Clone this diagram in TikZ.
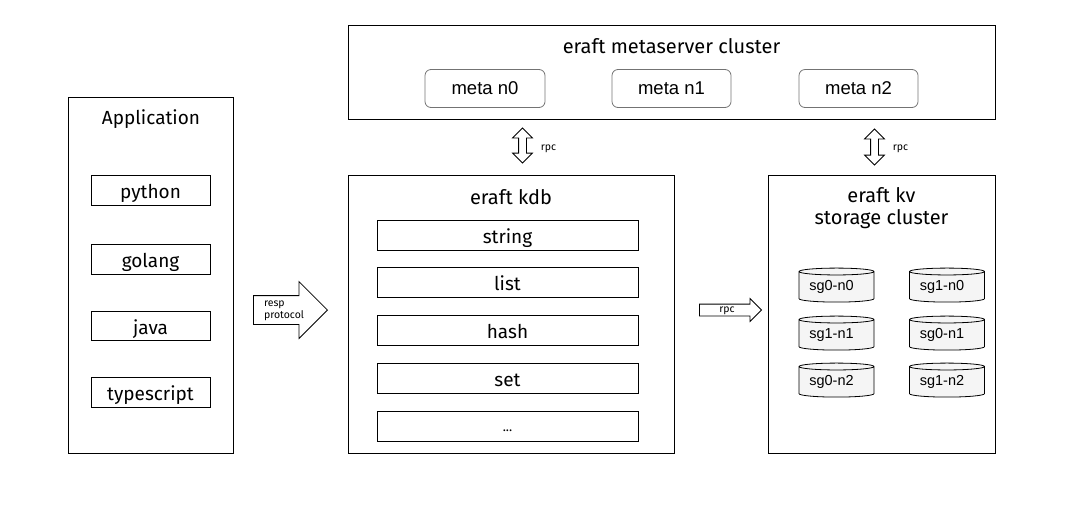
\documentclass[tikz,border=0pt]{standalone}
\usepackage{fontspec}
\setmainfont{Fira Sans}
\newfontfamily\arialfont{Liberation Sans}
\usetikzlibrary{shapes.geometric,shapes.arrows}
\newcommand{\disklabel}[1]{\raisebox{-3pt}{\kern-10pt #1}}
\tikzset{
  panelbox/.style={draw,line width=1pt,inner sep=0pt},
  itembox/.style={draw,line width=1pt,inner sep=0pt,text height=17pt,text depth=0pt,font=\fontsize{19}{19}\selectfont},
  metabox/.style={draw=black!55,line width=.8pt,rounded corners=6pt,inner sep=0pt,minimum width=119pt,minimum height=38pt,font=\arialfont\fontsize{18.5}{18.5}\selectfont},
  diskbox/.style={draw,line width=.8pt,fill=black!4,cylinder,shape border rotate=90,aspect=.2,inner sep=0pt,minimum width=75pt,minimum height=34pt,font=\arialfont\fontsize{14.5}{14.5}\selectfont},
  title/.style={font=\fontsize{20}{22}\selectfont,align=center},
  small/.style={font=\fontsize{10.5}{11.5}\selectfont,align=left},
}
\begin{document}
\begin{tikzpicture}[x=1pt,y=-1pt]
  \useasboundingbox (0,0) rectangle (1083,528);

  % application
  \node[panelbox,minimum width=165pt,minimum height=356pt] (app) at (151,275.5) {};
  \node[title,font=\fontsize{19}{23}\selectfont] (apptitle) at (151,119.5) {Application};
  \node[itembox,minimum width=119pt,minimum height=30pt] (python) at (150.5,190) {python};
  \node[itembox,minimum width=119pt,minimum height=30pt] (golang) at (150.5,259) {golang};
  \node[itembox,minimum width=119pt,minimum height=29pt] (java) at (150.5,325.5) {java};
  \node[itembox,minimum width=119pt,minimum height=30pt] (typescript) at (150.5,392) {typescript};

  % meta cluster
  \node[panelbox,minimum width=647pt,minimum height=94pt] (metaserver) at (671.5,72.5) {};
  \node[title] (metatitle) at (671.5,46.5) {eraft metaserver cluster};
  \node[metabox,minimum width=120pt] (metan0) at (485,88.5) {meta n0};
  \node[metabox] (metan1) at (671.5,88.5) {meta n1};
  \node[metabox] (metan2) at (858.5,88.5) {meta n2};

  % kdb
  \node[panelbox,minimum width=326pt,minimum height=278pt] (kdb) at (511,314.5) {};
  \node[title] (kdbtitle) at (511,197) {eraft kdb};
  \node[itembox,minimum width=261pt,minimum height=30pt] (string) at (507.5,235) {string};
  \node[itembox,minimum width=261pt,minimum height=30pt] (list) at (507.5,282) {list};
  \node[itembox,minimum width=261pt,minimum height=30pt] (hash) at (507.5,330) {hash};
  \node[itembox,minimum width=261pt,minimum height=30pt] (set) at (507.5,378) {set};
  \node[itembox,minimum width=261pt,minimum height=30pt,text height=11pt,font=\fontsize{13}{13}\selectfont] (more) at (507.5,426) {...};

  % kv cluster
  \node[panelbox,minimum width=227pt,minimum height=278pt] (kv) at (881.5,314.5) {};
  \node[title] (kvtitle) at (881.5,208) {eraft kv\\storage cluster};
  \node[diskbox] (sg0n0) at (836.5,287) {\disklabel{sg0-n0}};
  \node[diskbox] (sg1n0) at (947,287) {\disklabel{sg1-n0}};
  \node[diskbox] (sg1n1) at (836.5,335) {\disklabel{sg1-n1}};
  \node[diskbox] (sg0n1) at (947,335) {\disklabel{sg0-n1}};
  \node[diskbox] (sg0n2) at (836.5,382) {\disklabel{sg0-n2}};
  \node[diskbox] (sg1n2) at (947,382) {\disklabel{sg1-n2}};

  % arrows
  \node[draw,line width=.8pt,single arrow,anchor=tip,inner xsep=0pt,inner ysep=14pt,minimum height=74pt,minimum width=56pt,single arrow head extend=14pt,single arrow head indent=0pt] (resp) at (328,310) {};
  \node[small] (resplabel) at (284,311) {resp\\protocol};
  \node[draw,line width=.8pt,single arrow,anchor=tip,inner xsep=0pt,inner ysep=5.5pt,minimum height=62pt,minimum width=22pt,single arrow head extend=5.5pt,single arrow head indent=0pt] (rpcarrow) at (762,310) {};
  \node[small] (rpcmid) at (727,310.5) {rpc};
  \node[draw,line width=.8pt,double arrow,shape border rotate=90,inner sep=3.5pt,minimum height=35pt,minimum width=19pt,double arrow head extend=6pt,double arrow head indent=0pt] (rpcmeta) at (522.5,145.5) {};
  \node[small] (rpcmetalabel) at (548.5,148.5) {rpc};
  \node[draw,line width=.8pt,double arrow,shape border rotate=90,inner sep=3.5pt,minimum height=36pt,minimum width=19pt,double arrow head extend=6pt,double arrow head indent=0pt] (rpckv) at (874.5,147) {};
  \node[small] (rpckvlabel) at (900.5,148.5) {rpc};
\end{tikzpicture}
\end{document}
